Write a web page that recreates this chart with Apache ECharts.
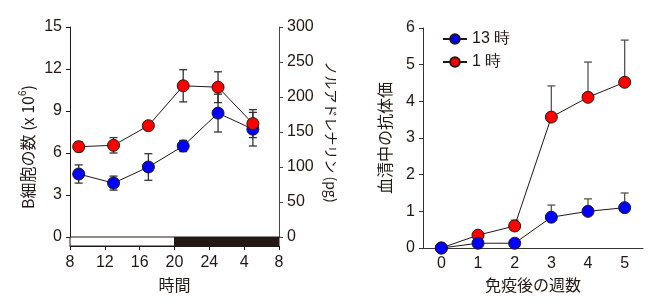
<!DOCTYPE html>
<html>
<head>
<meta charset="utf-8">
<script src="https://cdn.jsdelivr.net/npm/echarts@6/dist/echarts.min.js"></script>
<style>
  html, body { margin: 0; padding: 0; background: #fff; }
  #main { width: 655px; height: 304px; }
</style>
</head>
<body>
<div id="main"></div>
<script>
// left chart: time of day (hours, 8 .. 32 = 8 next morning)
var timeLabels = ['8', '12', '16', '20', '24', '4', '8'];
var hours = [9, 13, 17, 21, 25, 29];
var bCells = [4.5, 3.85, 5.0, 6.5, 8.85, 7.7];        // x 10^6
var bCellsErr = [0.65, 0.5, 0.95, 0.4, 1.35, 1.2];
var noradr = [129, 131, 159, 216, 214, 162];         // pg
var noradrErr = [7, 11, 3, 23, 22, 20];
var lightDark = [[8, 20, 0], [20, 32, 1]];           // start, end, dark?

// right chart: weeks after immunisation
var weeks = ['0', '1', '2', '3', '4', '5'];
var titer13 = [0, 0.13, 0.13, 0.84, 1.0, 1.1];
var titer13Err = [0, 0, 0, 0.33, 0.34, 0.4];
var titer1 = [0, 0.35, 0.6, 3.57, 4.11, 4.52];
var titer1Err = [0, 0, 0.16, 0.85, 0.96, 1.15];

var ink = '#231815';
var font = 'Liberation Sans, Arial, sans-serif';
var jp = '"Noto Sans CJK JP", sans-serif';

function errData(xs, ys, es) {
  return ys.map(function (y, i) { return [xs[i], y - es[i], y + es[i]]; });
}
function upErrData(ys, es) {
  return ys.map(function (y, i) { return [i, y, y + es[i]]; });
}

function errRender(both, color) {
  return function (params, api) {
    var lo = api.coord([api.value(0), api.value(1)]);
    var hi = api.coord([api.value(0), api.value(2)]);
    if (Math.abs(hi[1] - lo[1]) < 1) return;
    var w = 4;
    var style = { stroke: color, lineWidth: 1.3 };
    var kids = [
      { type: 'line', shape: { x1: hi[0], y1: hi[1], x2: lo[0], y2: lo[1] }, style: style },
      { type: 'line', shape: { x1: hi[0] - w, y1: hi[1], x2: hi[0] + w, y2: hi[1] }, style: style }
    ];
    if (both) {
      kids.push({ type: 'line', shape: { x1: lo[0] - w, y1: lo[1], x2: lo[0] + w, y2: lo[1] }, style: style });
    }
    return { type: 'group', children: kids };
  };
}

var tickLab = { color: ink, fontFamily: font, fontSize: 16 };

var chart = echarts.init(document.getElementById('main'), null, { renderer: 'canvas' });

var option = {
  animation: false,
  backgroundColor: '#fff',
  grid: [
    { left: 70, top: 27, width: 209, height: 210 },   // left plot
    { left: 70, top: 237, width: 209, height: 9 },    // light/dark bar
    { left: 423, top: 28, width: 220, height: 220 }   // right plot
  ],
  legend: {
    left: 437, top: 26, orient: 'vertical', itemGap: 7,
    itemWidth: 24, itemHeight: 12,
    data: ['13 時', '1 時'],
    textStyle: { color: ink, fontFamily: font, fontSize: 16 }
  },
  xAxis: [
    { gridIndex: 0, type: 'value', min: 8, max: 32, interval: 4, show: false },
    {
      gridIndex: 1, type: 'value', min: 8, max: 32, interval: 4,
      name: '時間', nameLocation: 'middle', nameGap: 31,
      nameTextStyle: { color: ink, fontFamily: jp, fontSize: 16 },
      axisLine: { lineStyle: { color: ink, width: 1 } },
      axisTick: { length: 4, lineStyle: { color: ink } },
      splitLine: { show: false },
      axisLabel: Object.assign({ margin: 9, formatter: function (v) { return timeLabels[(v - 8) / 4]; } }, tickLab)
    },
    {
      gridIndex: 2, type: 'category', data: weeks, boundaryGap: true,
      name: '免疫後の週数', nameLocation: 'middle', nameGap: 29,
      nameTextStyle: { color: ink, fontFamily: jp, fontSize: 16 },
      axisLine: { lineStyle: { color: '#333', width: 1 } },
      axisTick: { alignWithLabel: true, length: 4, lineStyle: { color: '#333' } },
      axisLabel: Object.assign({ margin: 8 }, tickLab)
    }
  ],
  yAxis: [
    {
      gridIndex: 0, type: 'value', min: 0, max: 15, interval: 3,
      name: '{a|B細胞の数 (x 10}{s|6}{a|)}{g|}', nameLocation: 'middle', nameGap: 33, nameRotate: 90,
      nameTextStyle: {
        rich: {
          a: { color: ink, fontFamily: jp, fontSize: 16 },
          s: { color: ink, fontFamily: font, fontSize: 10, verticalAlign: 'top', padding: [0, 0, 9, 0] },
          g: { width: 30 }
        }
      },
      axisLine: { show: true, lineStyle: { color: ink, width: 1 } },
      axisTick: { show: true, length: 4, lineStyle: { color: ink } },
      splitLine: { show: false },
      axisLabel: Object.assign({ margin: 8 }, tickLab)
    },
    {
      gridIndex: 0, type: 'value', position: 'right', min: 0, max: 300, interval: 50,
      name: 'ノルアドレナリン (pg)', nameLocation: 'middle', nameGap: 45, nameRotate: -90,
      nameTextStyle: { color: ink, fontFamily: jp, fontSize: 14, padding: [0, 0, 0, 0] },
      axisLine: { show: true, lineStyle: { color: '#444', width: 1 } },
      axisTick: { show: true, length: 4, lineStyle: { color: '#444' } },
      splitLine: { show: false },
      axisLabel: Object.assign({ margin: 8 }, tickLab)
    },
    { gridIndex: 1, type: 'value', min: 0, max: 1, show: false },
    {
      gridIndex: 2, type: 'value', min: 0, max: 6, interval: 1,
      name: '血清中の抗体価', nameLocation: 'middle', nameGap: 30, nameRotate: 90,
      nameTextStyle: { color: ink, fontFamily: jp, fontSize: 16 },
      axisLine: { show: true, lineStyle: { color: '#333', width: 1 } },
      axisTick: { show: true, length: 4, lineStyle: { color: '#333' } },
      splitLine: { show: false },
      axisLabel: Object.assign({ margin: 8 }, tickLab)
    }
  ],
  series: [
    // light / dark bar
    {
      type: 'custom', xAxisIndex: 1, yAxisIndex: 2, data: lightDark, silent: true,
      renderItem: function (params, api) {
        var a = api.coord([api.value(0), 1]);
        var b = api.coord([api.value(1), 0]);
        return {
          type: 'rect',
          shape: { x: a[0], y: a[1], width: b[0] - a[0], height: b[1] - a[1] },
          style: { fill: api.value(2) ? ink : '#fff', stroke: ink, lineWidth: 1 }
        };
      }
    },
    // left plot error bars
    { type: 'custom', xAxisIndex: 0, yAxisIndex: 0, data: errData(hours, bCells, bCellsErr), renderItem: errRender(true, '#333'), z: 1 },
    { type: 'custom', xAxisIndex: 0, yAxisIndex: 1, data: errData(hours, noradr, noradrErr), renderItem: errRender(true, '#333'), z: 1 },
    {
      name: 'B細胞', type: 'line', xAxisIndex: 0, yAxisIndex: 0,
      data: hours.map(function (h, i) { return [h, bCells[i]]; }),
      symbol: 'circle', symbolSize: 12,
      lineStyle: { color: ink, width: 1 },
      itemStyle: { color: '#0000ff', borderColor: ink, borderWidth: 1 }, z: 3
    },
    {
      name: 'ノルアドレナリン', type: 'line', xAxisIndex: 0, yAxisIndex: 1,
      data: hours.map(function (h, i) { return [h, noradr[i]]; }),
      symbol: 'circle', symbolSize: 12,
      lineStyle: { color: ink, width: 1 },
      itemStyle: { color: '#ff0000', borderColor: ink, borderWidth: 1 }, z: 4
    },
    // right plot
    { type: 'custom', xAxisIndex: 2, yAxisIndex: 3, data: upErrData(titer1, titer1Err), renderItem: errRender(false, '#555'), z: 1 },
    { type: 'custom', xAxisIndex: 2, yAxisIndex: 3, data: upErrData(titer13, titer13Err), renderItem: errRender(false, '#555'), z: 1 },
    {
      name: '1 時', type: 'line', xAxisIndex: 2, yAxisIndex: 3, data: titer1,
      symbol: 'circle', symbolSize: 12,
      lineStyle: { color: ink, width: 1 },
      itemStyle: { color: '#ff0000', borderColor: ink, borderWidth: 1 }, z: 3
    },
    {
      name: '13 時', type: 'line', xAxisIndex: 2, yAxisIndex: 3, data: titer13,
      symbol: 'circle', symbolSize: 12,
      lineStyle: { color: ink, width: 1 },
      itemStyle: { color: '#0000ff', borderColor: ink, borderWidth: 1 }, z: 4
    }
  ]
};

chart.setOption(option);
</script>
</body>
</html>
